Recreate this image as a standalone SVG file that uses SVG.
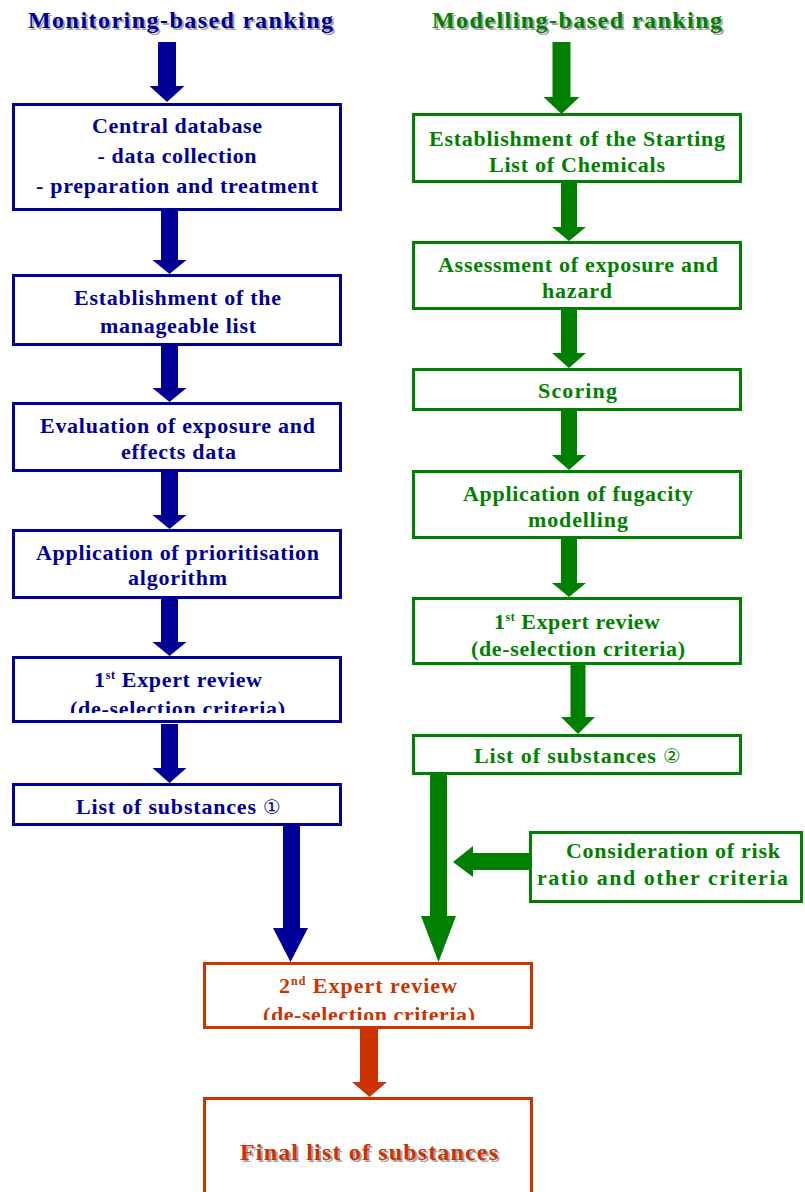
<svg xmlns="http://www.w3.org/2000/svg" width="805" height="1192" viewBox="0 0 805 1192">
<style>
  text { font-family: "Liberation Serif", "Times New Roman", "DejaVu Serif", serif; font-weight: bold; text-anchor: middle; }
  .t { font-size: 22px; }
  .title { font-size: 24px; }
  .shadow { fill: #a6a6a6; }
  .blue { fill: #000099; }
  .green { fill: #008000; }
  .red { fill: #cc3300; }
  .box { fill: #ffffff; stroke-width: 3; }
  .bb { stroke: #000099; }
  .gb { stroke: #008000; }
  .rb { stroke: #cc3300; }
  .sup { font-size: 12px; }
  .circ { font-family: "DejaVu Sans", sans-serif; font-weight: normal; font-size: 20px; }
</style>
<defs>
  <clipPath id="clipB5"><rect x="0" y="600" width="400" height="113"/></clipPath>
  <clipPath id="clip2nd"><rect x="200" y="960" width="340" height="60"/></clipPath>
</defs>
<rect width="805" height="1192" fill="#ffffff"/>

<g id="titles">
  <text class="title shadow" x="182.5" y="30" textLength="305" lengthAdjust="spacing">Monitoring-based ranking</text>
  <text class="title blue" x="180.5" y="28" textLength="305" lengthAdjust="spacing">Monitoring-based ranking</text>
  <text class="title shadow" x="579" y="30" textLength="290" lengthAdjust="spacing">Modelling-based ranking</text>
  <text class="title green" x="577" y="28" textLength="290" lengthAdjust="spacing">Modelling-based ranking</text>
</g>

<g id="connectors">
  <polygon class="blue" points="158,42 176,42 176,86 184.5,86 167,102 149.5,86 158,86"/>
  <polygon class="blue" points="161,211 178,211 178,260 186.5,260 169.5,274 152.5,260 161,260"/>
  <polygon class="blue" points="161,346 178,346 178,388 186.5,388 169.5,402 152.5,388 161,388"/>
  <polygon class="blue" points="161,472 178,472 178,515 186.5,515 169.5,529 152.5,515 161,515"/>
  <polygon class="blue" points="161,599 178,599 178,642 186.5,642 169.5,656 152.5,642 161,642"/>
  <polygon class="blue" points="161,724 178,724 178,768 186.5,768 169.5,783 152.5,768 161,768"/>
  <polygon class="blue" points="283,826 300,826 300,928 308,928 290.5,962 273,928 283,928"/>

  <polygon class="green" points="552.5,42 570.5,42 570.5,97 579.5,97 561.5,114 543.5,97 552.5,97"/>
  <polygon class="green" points="561,183 577,183 577,227 586,227 569,241 552,227 561,227"/>
  <polygon class="green" points="561,310 577,310 577,353 586,353 569,368 552,353 561,353"/>
  <polygon class="green" points="561,411 577,411 577,455 586,455 569,470 552,455 561,455"/>
  <polygon class="green" points="561,539 577,539 577,583 586,583 569,597 552,583 561,583"/>
  <polygon class="green" points="570.5,665 585.5,665 585.5,717 595,717 578,734 561,717 570.5,717"/>
  <polygon class="green" points="430,775 447,775 447,916 456,916 438.5,962 421,916 430,916"/>
  <polygon class="green" points="529,853 473,853 473,846 453,862 473,877 473,870 529,870"/>

  <polygon class="red" points="360,1029 378,1029 378,1082 387,1082 369.5,1097 352,1082 360,1082"/>
</g>

<g id="node-central-database">
  <rect class="box bb" x="13.5" y="104.5" width="327" height="105"/>
  <text class="t blue" x="177" y="133" textLength="170" lengthAdjust="spacing">Central database</text>
  <text class="t blue" x="177" y="163" textLength="159" lengthAdjust="spacing">- data collection</text>
  <text class="t blue" x="177" y="193" textLength="282" lengthAdjust="spacing">- preparation and treatment</text>
</g>
<g id="node-manageable-list">
  <rect class="box bb" x="13.5" y="275.5" width="327" height="69"/>
  <text class="t blue" x="177.5" y="305" textLength="207" lengthAdjust="spacing">Establishment of the</text>
  <text class="t blue" x="178" y="333" textLength="156" lengthAdjust="spacing">manageable list</text>
</g>
<g id="node-evaluation">
  <rect class="box bb" x="13.5" y="403.5" width="327" height="67"/>
  <text class="t blue" x="177.5" y="433" textLength="275" lengthAdjust="spacing">Evaluation of exposure and</text>
  <text class="t blue" x="178.5" y="459" textLength="115" lengthAdjust="spacing">effects data</text>
</g>
<g id="node-prioritisation">
  <rect class="box bb" x="13.5" y="530.5" width="327" height="67"/>
  <text class="t blue" x="177.5" y="560" textLength="283" lengthAdjust="spacing">Application of prioritisation</text>
  <text class="t blue" x="177.5" y="585" textLength="99" lengthAdjust="spacing">algorithm</text>
</g>
<g id="node-expert-review-1-left">
  <rect class="box bb" x="13.5" y="657.5" width="327" height="64"/>
  <text class="t blue" x="178" y="687" textLength="168" lengthAdjust="spacing">1<tspan class="sup" dy="-8">st</tspan><tspan dy="8"> Expert review</tspan></text>
  <text class="t blue" x="177.5" y="716" textLength="215" lengthAdjust="spacing" clip-path="url(#clipB5)">(de-selection criteria)</text>
</g>
<g id="node-list-1">
  <rect class="box bb" x="13.5" y="784.5" width="327" height="40"/>
  <text class="t blue" x="178.5" y="814" textLength="205" lengthAdjust="spacing">List of substances <tspan class="circ">①</tspan></text>
</g>

<g id="node-starting-list">
  <rect class="box gb" x="413.5" y="114.5" width="327" height="67"/>
  <text class="t green" x="577" y="146" textLength="296" lengthAdjust="spacing">Establishment of the Starting</text>
  <text class="t green" x="577" y="172" textLength="176" lengthAdjust="spacing">List of Chemicals</text>
</g>
<g id="node-assessment">
  <rect class="box gb" x="413.5" y="242.5" width="327" height="66"/>
  <text class="t green" x="578" y="272" textLength="280" lengthAdjust="spacing">Assessment of exposure and</text>
  <text class="t green" x="577" y="298" textLength="70" lengthAdjust="spacing">hazard</text>
</g>
<g id="node-scoring">
  <rect class="box gb" x="413.5" y="369.5" width="327" height="40"/>
  <text class="t green" x="577.5" y="398" textLength="79" lengthAdjust="spacing">Scoring</text>
</g>
<g id="node-fugacity">
  <rect class="box gb" x="413.5" y="471.5" width="327" height="66"/>
  <text class="t green" x="578" y="501" textLength="230" lengthAdjust="spacing">Application of fugacity</text>
  <text class="t green" x="578" y="527" textLength="100" lengthAdjust="spacing">modelling</text>
</g>
<g id="node-expert-review-1-right">
  <rect class="box gb" x="413.5" y="598.5" width="327" height="65"/>
  <text class="t green" x="577" y="629" textLength="166" lengthAdjust="spacing">1<tspan class="sup" dy="-8">st</tspan><tspan dy="8"> Expert review</tspan></text>
  <text class="t green" x="578" y="656" textLength="214" lengthAdjust="spacing">(de-selection criteria)</text>
</g>
<g id="node-list-2">
  <rect class="box gb" x="413.5" y="735.5" width="327" height="38"/>
  <text class="t green" x="577.5" y="763" textLength="207" lengthAdjust="spacing">List of substances <tspan class="circ">②</tspan></text>
</g>
<g id="node-risk-ratio">
  <rect class="box gb" x="530.5" y="832.5" width="271" height="69"/>
  <text class="t green" x="673" y="858" textLength="214" lengthAdjust="spacing">Consideration of risk</text>
  <text class="t green" x="662.5" y="885" textLength="251" lengthAdjust="spacing">ratio and other criteria</text>
</g>

<g id="node-expert-review-2">
  <rect class="box rb" x="204.5" y="963.5" width="327" height="64"/>
  <text class="t red" x="368" y="993" textLength="178" lengthAdjust="spacing">2<tspan class="sup" dy="-8">nd</tspan><tspan dy="8"> Expert review</tspan></text>
  <text class="t red" x="369" y="1022" textLength="212" lengthAdjust="spacing" clip-path="url(#clip2nd)">(de-selection criteria)</text>
</g>
<g id="node-final-list">
  <rect class="box rb" x="204.5" y="1098.5" width="327" height="120"/>
  <text class="title shadow" x="371" y="1162" textLength="258" lengthAdjust="spacing">Final list of substances</text>
  <text class="title red" x="369" y="1160" textLength="258" lengthAdjust="spacing">Final list of substances</text>
</g>
</svg>
